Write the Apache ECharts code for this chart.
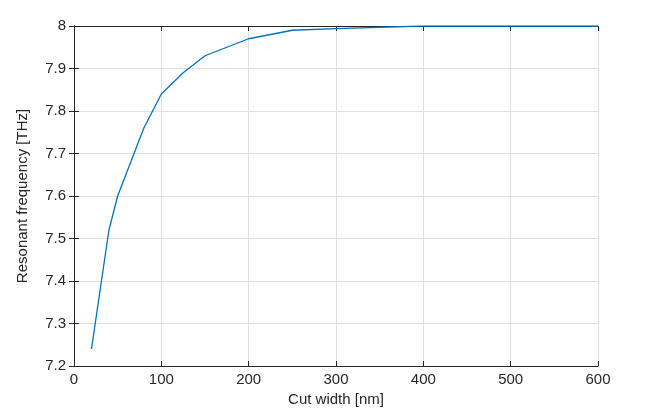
<!DOCTYPE html>
<html>
<head>
<meta charset="utf-8">
<script src="https://cdn.jsdelivr.net/npm/echarts@6/dist/echarts.min.js"></script>
<style>html,body{margin:0;padding:0;background:#fff}#chart{width:646px;height:420px}</style>
</head>
<body>
<div id="chart"></div>
<script>
// cut width [nm] vs resonant frequency [THz]
const cutWidth = [20, 40, 50, 80, 100, 125, 150, 200, 250, 300, 400, 500, 600];
const resonantFreq = [7.24, 7.52, 7.60, 7.76, 7.84, 7.89, 7.93, 7.97, 7.99, 7.994, 8.0, 8.0, 8.0];

const chart = echarts.init(document.getElementById('chart'));

const font = 'Liberation Sans, Arial, sans-serif';
const tickStyle = { show: true, inside: true, length: 5, lineStyle: { color: '#262626' } };
const axisLine = { show: true, lineStyle: { color: '#262626', width: 1 } };

const options = {
    animation: false,
    grid: { left: 74, right: 48, top: 26, bottom: 54 },
    xAxis: [
        {
            type: 'value', min: 0, max: 600, interval: 100,
            name: 'Cut width [nm]', nameLocation: 'middle', nameGap: 22,
            nameTextStyle: { fontFamily: font, fontSize: 15, color: '#262626' },
            axisLine: axisLine, axisTick: tickStyle,
            axisLabel: { fontFamily: font, fontSize: 15, color: '#262626', margin: 6 },
            splitLine: { show: true, lineStyle: { color: '#e0e0e0' } }
        },
        {
            type: 'value', min: 0, max: 600, interval: 100, position: 'top',
            axisLine: axisLine, axisTick: tickStyle, axisLabel: { show: false }, splitLine: { show: false }
        }
    ],
    yAxis: [
        {
            type: 'value', min: 7.2, max: 8, interval: 0.1,
            name: 'Resonant frequency [THz]', nameLocation: 'middle', nameGap: 44,
            nameTextStyle: { fontFamily: font, fontSize: 15, color: '#262626' },
            axisLine: axisLine, axisTick: tickStyle,
            axisLabel: {
                fontFamily: font, fontSize: 15, color: '#262626', margin: 8,
                formatter: v => (Math.abs(v - 8) < 1e-9 ? '8' : v.toFixed(1))
            },
            splitLine: { show: true, lineStyle: { color: '#e0e0e0' } }
        },
        {
            type: 'value', min: 7.2, max: 8, interval: 0.1, position: 'right',
            axisLine: axisLine, axisTick: tickStyle, axisLabel: { show: false }, splitLine: { show: false }
        }
    ],
    series: [
        {
            type: 'line',
            data: cutWidth.map((x, i) => [x, resonantFreq[i]]),
            showSymbol: false,
            lineStyle: { color: '#0072BD', width: 1.3 },
            xAxisIndex: 0, yAxisIndex: 0
        }
    ]
};

chart.setOption(options);
</script>
</body>
</html>
